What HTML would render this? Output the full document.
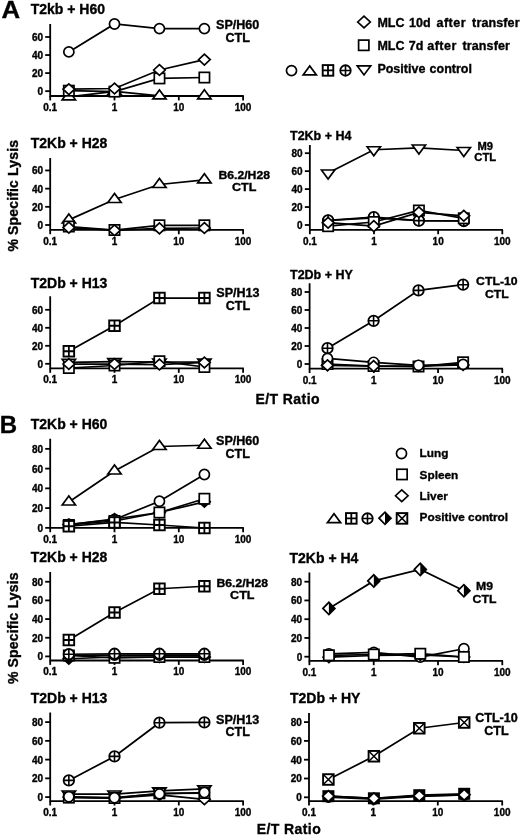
<!DOCTYPE html>
<html><head><meta charset="utf-8"><title>Figure</title>
<style>html,body{margin:0;padding:0;background:#fff;width:520px;height:837px;overflow:hidden}svg{display:block;position:absolute;left:0;top:0}text{fill:#000;stroke:#000;stroke-width:0.35px}</style>
</head><body>
<svg width="520" height="837" viewBox="0 0 520 837">
<rect width="520" height="837" fill="#fff"/>
<defs><filter id="gs" x="0" y="0" width="520" height="837" filterUnits="userSpaceOnUse" color-interpolation-filters="sRGB"><feColorMatrix type="saturate" values="0"/><feGaussianBlur stdDeviation="0.4"/></filter></defs>
<g filter="url(#gs)">
<text transform="translate(1.6,18.3) scale(1.075,1)" font-size="24" font-family="Liberation Sans, sans-serif" font-weight="bold">A</text>
<text x="-0.3" y="432.5" font-size="24" font-family="Liberation Sans, sans-serif" font-weight="bold">B</text>
<path d="M50.2 24V96.0H243.79999999999995" fill="none" stroke="#000" stroke-width="1.8"/>
<path d="M45.2 91.15H50.2" stroke="#000" stroke-width="1.8"/>
<text x="43.0" y="95.05" font-size="10" font-family="Liberation Sans, sans-serif" font-weight="bold" text-anchor="end">0</text>
<path d="M45.2 73.10000000000001H50.2" stroke="#000" stroke-width="1.8"/>
<text x="43.0" y="77.0" font-size="10" font-family="Liberation Sans, sans-serif" font-weight="bold" text-anchor="end">20</text>
<path d="M45.2 55.050000000000004H50.2" stroke="#000" stroke-width="1.8"/>
<text x="43.0" y="58.95" font-size="10" font-family="Liberation Sans, sans-serif" font-weight="bold" text-anchor="end">40</text>
<path d="M45.2 37.00000000000001H50.2" stroke="#000" stroke-width="1.8"/>
<text x="43.0" y="40.9" font-size="10" font-family="Liberation Sans, sans-serif" font-weight="bold" text-anchor="end">60</text>
<path d="M50.2 96.0V100.4" stroke="#000" stroke-width="1.8"/>
<text x="50.2" y="110.9" font-size="10" font-family="Liberation Sans, sans-serif" font-weight="bold" text-anchor="middle">0.1</text>
<path d="M114.5 96.0V100.4" stroke="#000" stroke-width="1.8"/>
<text x="114.5" y="110.9" font-size="10" font-family="Liberation Sans, sans-serif" font-weight="bold" text-anchor="middle">1</text>
<path d="M178.8 96.0V100.4" stroke="#000" stroke-width="1.8"/>
<text x="178.8" y="110.9" font-size="10" font-family="Liberation Sans, sans-serif" font-weight="bold" text-anchor="middle">10</text>
<path d="M243.09999999999997 96.0V100.4" stroke="#000" stroke-width="1.8"/>
<text x="243.09999999999997" y="110.9" font-size="10" font-family="Liberation Sans, sans-serif" font-weight="bold" text-anchor="middle">100</text>
<text x="30.7" y="14.2" font-size="14" font-family="Liberation Sans, sans-serif" font-weight="bold">T2kb + H60</text>
<polyline points="68.85,96.8 114.5,91.5 159.44,95.9 204.39,95.8" fill="none" stroke="#000" stroke-width="1.75"/>
<path d="M62.199999999999996 99.8L68.85 90.8L75.5 99.8Z" fill="#fff" stroke="#000" stroke-width="1.7" stroke-linejoin="miter"/>
<path d="M107.85 94.5L114.5 85.5L121.15 94.5Z" fill="#fff" stroke="#000" stroke-width="1.7" stroke-linejoin="miter"/>
<path d="M152.79 98.9L159.44 89.9L166.09 98.9Z" fill="#fff" stroke="#000" stroke-width="1.7" stroke-linejoin="miter"/>
<path d="M197.73999999999998 98.8L204.39 89.8L211.04 98.8Z" fill="#fff" stroke="#000" stroke-width="1.7" stroke-linejoin="miter"/>
<polyline points="68.85,90.7 114.5,91.6 159.44,78.4 204.39,77.5" fill="none" stroke="#000" stroke-width="1.75"/>
<rect x="63.699999999999996" y="85.55" width="10.3" height="10.3" fill="#fff" stroke="#000" stroke-width="1.7"/>
<rect x="109.35" y="86.44999999999999" width="10.3" height="10.3" fill="#fff" stroke="#000" stroke-width="1.7"/>
<rect x="154.29" y="73.25" width="10.3" height="10.3" fill="#fff" stroke="#000" stroke-width="1.7"/>
<rect x="199.23999999999998" y="72.35" width="10.3" height="10.3" fill="#fff" stroke="#000" stroke-width="1.7"/>
<polyline points="68.85,89.2 114.5,88.5 159.44,70 204.39,59.6" fill="none" stroke="#000" stroke-width="1.75"/>
<path d="M63.05 89.2L68.85 83.8L74.64999999999999 89.2L68.85 94.60000000000001Z" fill="#fff" stroke="#000" stroke-width="1.7" stroke-linejoin="miter"/>
<path d="M108.7 88.5L114.5 83.1L120.3 88.5L114.5 93.9Z" fill="#fff" stroke="#000" stroke-width="1.7" stroke-linejoin="miter"/>
<path d="M153.64 70L159.44 64.6L165.24 70L159.44 75.4Z" fill="#fff" stroke="#000" stroke-width="1.7" stroke-linejoin="miter"/>
<path d="M198.58999999999997 59.6L204.39 54.2L210.19 59.6L204.39 65.0Z" fill="#fff" stroke="#000" stroke-width="1.7" stroke-linejoin="miter"/>
<polyline points="68.85,51.9 114.5,24.0 159.44,28.6 204.39,28.6" fill="none" stroke="#000" stroke-width="1.75"/>
<circle cx="68.85" cy="51.9" r="5.05" fill="#fff" stroke="#000" stroke-width="1.7"/>
<circle cx="114.5" cy="24.0" r="5.05" fill="#fff" stroke="#000" stroke-width="1.7"/>
<circle cx="159.44" cy="28.6" r="5.05" fill="#fff" stroke="#000" stroke-width="1.7"/>
<circle cx="204.39" cy="28.6" r="5.05" fill="#fff" stroke="#000" stroke-width="1.7"/>
<text x="216.04" y="28.5" font-size="12" font-family="Liberation Sans, sans-serif" font-weight="bold" textLength="43.31" lengthAdjust="spacingAndGlyphs">SP/H60</text>
<text x="225.48" y="41.5" font-size="12" font-family="Liberation Sans, sans-serif" font-weight="bold" textLength="24.43" lengthAdjust="spacingAndGlyphs">CTL</text>
<path d="M50.2 158V229.85H243.79999999999995" fill="none" stroke="#000" stroke-width="1.8"/>
<path d="M45.2 225.0H50.2" stroke="#000" stroke-width="1.8"/>
<text x="43.0" y="228.9" font-size="10" font-family="Liberation Sans, sans-serif" font-weight="bold" text-anchor="end">0</text>
<path d="M45.2 206.82H50.2" stroke="#000" stroke-width="1.8"/>
<text x="43.0" y="210.72" font-size="10" font-family="Liberation Sans, sans-serif" font-weight="bold" text-anchor="end">20</text>
<path d="M45.2 188.64H50.2" stroke="#000" stroke-width="1.8"/>
<text x="43.0" y="192.54" font-size="10" font-family="Liberation Sans, sans-serif" font-weight="bold" text-anchor="end">40</text>
<path d="M45.2 170.46H50.2" stroke="#000" stroke-width="1.8"/>
<text x="43.0" y="174.36" font-size="10" font-family="Liberation Sans, sans-serif" font-weight="bold" text-anchor="end">60</text>
<path d="M50.2 229.85V234.25" stroke="#000" stroke-width="1.8"/>
<text x="50.2" y="244.75" font-size="10" font-family="Liberation Sans, sans-serif" font-weight="bold" text-anchor="middle">0.1</text>
<path d="M114.5 229.85V234.25" stroke="#000" stroke-width="1.8"/>
<text x="114.5" y="244.75" font-size="10" font-family="Liberation Sans, sans-serif" font-weight="bold" text-anchor="middle">1</text>
<path d="M178.8 229.85V234.25" stroke="#000" stroke-width="1.8"/>
<text x="178.8" y="244.75" font-size="10" font-family="Liberation Sans, sans-serif" font-weight="bold" text-anchor="middle">10</text>
<path d="M243.09999999999997 229.85V234.25" stroke="#000" stroke-width="1.8"/>
<text x="243.09999999999997" y="244.75" font-size="10" font-family="Liberation Sans, sans-serif" font-weight="bold" text-anchor="middle">100</text>
<text x="30.7" y="148.4" font-size="14" font-family="Liberation Sans, sans-serif" font-weight="bold">T2Kb + H28</text>
<polyline points="68.85,219.9 114.5,199.5 159.44,184.5 204.39,179.8" fill="none" stroke="#000" stroke-width="1.75"/>
<path d="M62.199999999999996 222.9L68.85 213.9L75.5 222.9Z" fill="#fff" stroke="#000" stroke-width="1.7" stroke-linejoin="miter"/>
<path d="M107.85 202.5L114.5 193.5L121.15 202.5Z" fill="#fff" stroke="#000" stroke-width="1.7" stroke-linejoin="miter"/>
<path d="M152.79 187.5L159.44 178.5L166.09 187.5Z" fill="#fff" stroke="#000" stroke-width="1.7" stroke-linejoin="miter"/>
<path d="M197.73999999999998 182.8L204.39 173.8L211.04 182.8Z" fill="#fff" stroke="#000" stroke-width="1.7" stroke-linejoin="miter"/>
<polyline points="68.85,226.5 114.5,230 159.44,225.3 204.39,225.3" fill="none" stroke="#000" stroke-width="1.75"/>
<rect x="63.699999999999996" y="221.35" width="10.3" height="10.3" fill="#fff" stroke="#000" stroke-width="1.7"/>
<rect x="109.35" y="224.85" width="10.3" height="10.3" fill="#fff" stroke="#000" stroke-width="1.7"/>
<rect x="154.29" y="220.15" width="10.3" height="10.3" fill="#fff" stroke="#000" stroke-width="1.7"/>
<rect x="199.23999999999998" y="220.15" width="10.3" height="10.3" fill="#fff" stroke="#000" stroke-width="1.7"/>
<polyline points="68.85,227.6 114.5,230.3 159.44,228.4 204.39,228" fill="none" stroke="#000" stroke-width="1.75"/>
<path d="M63.05 227.6L68.85 222.2L74.64999999999999 227.6L68.85 233.0Z" fill="#fff" stroke="#000" stroke-width="1.7" stroke-linejoin="miter"/>
<path d="M108.7 230.3L114.5 224.9L120.3 230.3L114.5 235.70000000000002Z" fill="#fff" stroke="#000" stroke-width="1.7" stroke-linejoin="miter"/>
<path d="M153.64 228.4L159.44 223.0L165.24 228.4L159.44 233.8Z" fill="#fff" stroke="#000" stroke-width="1.7" stroke-linejoin="miter"/>
<path d="M198.58999999999997 228L204.39 222.6L210.19 228L204.39 233.4Z" fill="#fff" stroke="#000" stroke-width="1.7" stroke-linejoin="miter"/>
<text x="218.41" y="179.0" font-size="10.8" font-family="Liberation Sans, sans-serif" font-weight="bold" textLength="51.57" lengthAdjust="spacingAndGlyphs">B6.2/H28</text>
<text x="231.98" y="191.1" font-size="10.8" font-family="Liberation Sans, sans-serif" font-weight="bold" textLength="24.43" lengthAdjust="spacingAndGlyphs">CTL</text>
<path d="M309.85 145V229.85H503.00000000000006" fill="none" stroke="#000" stroke-width="1.8"/>
<path d="M304.85 225.0H309.85" stroke="#000" stroke-width="1.8"/>
<text x="302.65000000000003" y="228.9" font-size="10" font-family="Liberation Sans, sans-serif" font-weight="bold" text-anchor="end">0</text>
<path d="M304.85 207.05H309.85" stroke="#000" stroke-width="1.8"/>
<text x="302.65000000000003" y="210.95" font-size="10" font-family="Liberation Sans, sans-serif" font-weight="bold" text-anchor="end">20</text>
<path d="M304.85 189.1H309.85" stroke="#000" stroke-width="1.8"/>
<text x="302.65000000000003" y="193.0" font-size="10" font-family="Liberation Sans, sans-serif" font-weight="bold" text-anchor="end">40</text>
<path d="M304.85 171.15H309.85" stroke="#000" stroke-width="1.8"/>
<text x="302.65000000000003" y="175.05" font-size="10" font-family="Liberation Sans, sans-serif" font-weight="bold" text-anchor="end">60</text>
<path d="M304.85 153.2H309.85" stroke="#000" stroke-width="1.8"/>
<text x="302.65000000000003" y="157.1" font-size="10" font-family="Liberation Sans, sans-serif" font-weight="bold" text-anchor="end">80</text>
<path d="M309.85 229.85V234.25" stroke="#000" stroke-width="1.8"/>
<text x="309.85" y="244.75" font-size="10" font-family="Liberation Sans, sans-serif" font-weight="bold" text-anchor="middle">0.1</text>
<path d="M374.0 229.85V234.25" stroke="#000" stroke-width="1.8"/>
<text x="374.0" y="244.75" font-size="10" font-family="Liberation Sans, sans-serif" font-weight="bold" text-anchor="middle">1</text>
<path d="M438.15000000000003 229.85V234.25" stroke="#000" stroke-width="1.8"/>
<text x="438.15000000000003" y="244.75" font-size="10" font-family="Liberation Sans, sans-serif" font-weight="bold" text-anchor="middle">10</text>
<path d="M502.30000000000007 229.85V234.25" stroke="#000" stroke-width="1.8"/>
<text x="502.30000000000007" y="244.75" font-size="10" font-family="Liberation Sans, sans-serif" font-weight="bold" text-anchor="middle">100</text>
<text x="290" y="140" font-size="12.5" font-family="Liberation Sans, sans-serif" font-weight="bold">T2Kb + H4</text>
<polyline points="328.1,173.0 373.8,149.75 418.9,148.0 463.8,150.5" fill="none" stroke="#000" stroke-width="1.75"/>
<path d="M321.45000000000005 170.0L328.1 179.0L334.75 170.0Z" fill="#fff" stroke="#000" stroke-width="1.7" stroke-linejoin="miter"/>
<path d="M367.15000000000003 146.75L373.8 155.75L380.45 146.75Z" fill="#fff" stroke="#000" stroke-width="1.7" stroke-linejoin="miter"/>
<path d="M412.25 145.0L418.9 154.0L425.54999999999995 145.0Z" fill="#fff" stroke="#000" stroke-width="1.7" stroke-linejoin="miter"/>
<path d="M457.15000000000003 147.5L463.8 156.5L470.45 147.5Z" fill="#fff" stroke="#000" stroke-width="1.7" stroke-linejoin="miter"/>
<polyline points="328.1,220.5 373.8,218 418.9,220.6 463.8,221" fill="none" stroke="#000" stroke-width="1.75"/>
<circle cx="328.1" cy="220.5" r="5.05" fill="#fff" stroke="#000" stroke-width="1.7"/>
<circle cx="373.8" cy="218" r="5.05" fill="#fff" stroke="#000" stroke-width="1.7"/>
<circle cx="418.9" cy="220.6" r="5.05" fill="#fff" stroke="#000" stroke-width="1.7"/>
<circle cx="463.8" cy="221" r="5.05" fill="#fff" stroke="#000" stroke-width="1.7"/>
<polyline points="328.1,220.3 373.8,217.1 418.9,220.6 463.8,221" fill="none" stroke="#000" stroke-width="1.75"/>
<circle cx="328.1" cy="220.3" r="5.25" fill="#fff" stroke="#000" stroke-width="1.8"/><path d="M322.85 220.3H333.35M328.1 215.05V225.55" stroke="#000" stroke-width="1.6" fill="none"/>
<circle cx="373.8" cy="217.1" r="5.25" fill="#fff" stroke="#000" stroke-width="1.8"/><path d="M368.55 217.1H379.05M373.8 211.85V222.35" stroke="#000" stroke-width="1.6" fill="none"/>
<circle cx="418.9" cy="220.6" r="5.25" fill="#fff" stroke="#000" stroke-width="1.8"/><path d="M413.65 220.6H424.15M418.9 215.35V225.85" stroke="#000" stroke-width="1.6" fill="none"/>
<circle cx="463.8" cy="221" r="5.25" fill="#fff" stroke="#000" stroke-width="1.8"/><path d="M458.55 221H469.05M463.8 215.75V226.25" stroke="#000" stroke-width="1.6" fill="none"/>
<polyline points="328.1,226.2 373.8,222 418.9,210.5 463.8,218.3" fill="none" stroke="#000" stroke-width="1.75"/>
<rect x="322.95000000000005" y="221.04999999999998" width="10.3" height="10.3" fill="#fff" stroke="#000" stroke-width="1.7"/>
<rect x="368.65000000000003" y="216.85" width="10.3" height="10.3" fill="#fff" stroke="#000" stroke-width="1.7"/>
<rect x="413.75" y="205.35" width="10.3" height="10.3" fill="#fff" stroke="#000" stroke-width="1.7"/>
<rect x="458.65000000000003" y="213.15" width="10.3" height="10.3" fill="#fff" stroke="#000" stroke-width="1.7"/>
<polyline points="328.1,222.7 373.8,226.1 418.9,212.3 463.8,215.8" fill="none" stroke="#000" stroke-width="1.75"/>
<path d="M322.3 222.7L328.1 217.29999999999998L333.90000000000003 222.7L328.1 228.1Z" fill="#fff" stroke="#000" stroke-width="1.7" stroke-linejoin="miter"/>
<path d="M368.0 226.1L373.8 220.7L379.6 226.1L373.8 231.5Z" fill="#fff" stroke="#000" stroke-width="1.7" stroke-linejoin="miter"/>
<path d="M413.09999999999997 212.3L418.9 206.9L424.7 212.3L418.9 217.70000000000002Z" fill="#fff" stroke="#000" stroke-width="1.7" stroke-linejoin="miter"/>
<path d="M458.0 215.8L463.8 210.4L469.6 215.8L463.8 221.20000000000002Z" fill="#fff" stroke="#000" stroke-width="1.7" stroke-linejoin="miter"/>
<text x="477.4" y="149.7" font-size="10" font-family="Liberation Sans, sans-serif" font-weight="bold" textLength="15.59" lengthAdjust="spacingAndGlyphs">M9</text>
<text x="474.29" y="160.9" font-size="10" font-family="Liberation Sans, sans-serif" font-weight="bold" textLength="21.82" lengthAdjust="spacingAndGlyphs">CTL</text>
<path d="M50.2 296.25V368.4H243.79999999999995" fill="none" stroke="#000" stroke-width="1.8"/>
<path d="M45.2 363.8H50.2" stroke="#000" stroke-width="1.8"/>
<text x="43.0" y="367.7" font-size="10" font-family="Liberation Sans, sans-serif" font-weight="bold" text-anchor="end">0</text>
<path d="M45.2 345.8H50.2" stroke="#000" stroke-width="1.8"/>
<text x="43.0" y="349.7" font-size="10" font-family="Liberation Sans, sans-serif" font-weight="bold" text-anchor="end">20</text>
<path d="M45.2 327.8H50.2" stroke="#000" stroke-width="1.8"/>
<text x="43.0" y="331.7" font-size="10" font-family="Liberation Sans, sans-serif" font-weight="bold" text-anchor="end">40</text>
<path d="M45.2 309.8H50.2" stroke="#000" stroke-width="1.8"/>
<text x="43.0" y="313.7" font-size="10" font-family="Liberation Sans, sans-serif" font-weight="bold" text-anchor="end">60</text>
<path d="M50.2 368.4V372.79999999999995" stroke="#000" stroke-width="1.8"/>
<text x="50.2" y="383.3" font-size="10" font-family="Liberation Sans, sans-serif" font-weight="bold" text-anchor="middle">0.1</text>
<path d="M114.5 368.4V372.79999999999995" stroke="#000" stroke-width="1.8"/>
<text x="114.5" y="383.3" font-size="10" font-family="Liberation Sans, sans-serif" font-weight="bold" text-anchor="middle">1</text>
<path d="M178.8 368.4V372.79999999999995" stroke="#000" stroke-width="1.8"/>
<text x="178.8" y="383.3" font-size="10" font-family="Liberation Sans, sans-serif" font-weight="bold" text-anchor="middle">10</text>
<path d="M243.09999999999997 368.4V372.79999999999995" stroke="#000" stroke-width="1.8"/>
<text x="243.09999999999997" y="383.3" font-size="10" font-family="Liberation Sans, sans-serif" font-weight="bold" text-anchor="middle">100</text>
<text x="30.7" y="287.5" font-size="14" font-family="Liberation Sans, sans-serif" font-weight="bold">T2Db + H13</text>
<polyline points="68.85,351.25 114.5,325.75 159.44,298 204.39,298" fill="none" stroke="#000" stroke-width="1.75"/>
<rect x="63.55" y="345.95" width="10.6" height="10.6" fill="#fff" stroke="#000" stroke-width="1.9"/><path d="M63.55 351.25H74.14999999999999M68.85 345.95V356.55" stroke="#000" stroke-width="1.8" fill="none"/>
<rect x="109.2" y="320.45" width="10.6" height="10.6" fill="#fff" stroke="#000" stroke-width="1.9"/><path d="M109.2 325.75H119.8M114.5 320.45V331.05" stroke="#000" stroke-width="1.8" fill="none"/>
<rect x="154.14" y="292.7" width="10.6" height="10.6" fill="#fff" stroke="#000" stroke-width="1.9"/><path d="M154.14 298H164.74M159.44 292.7V303.3" stroke="#000" stroke-width="1.8" fill="none"/>
<rect x="199.08999999999997" y="292.7" width="10.6" height="10.6" fill="#fff" stroke="#000" stroke-width="1.9"/><path d="M199.08999999999997 298H209.69M204.39 292.7V303.3" stroke="#000" stroke-width="1.8" fill="none"/>
<polyline points="68.85,362.3 114.5,361.7 159.44,362.0 204.39,362.1" fill="none" stroke="#000" stroke-width="1.75"/>
<path d="M62.199999999999996 359.3L68.85 368.3L75.5 359.3Z" fill="#fff" stroke="#000" stroke-width="1.7" stroke-linejoin="miter"/>
<path d="M107.85 358.7L114.5 367.7L121.15 358.7Z" fill="#fff" stroke="#000" stroke-width="1.7" stroke-linejoin="miter"/>
<path d="M152.79 359.0L159.44 368.0L166.09 359.0Z" fill="#fff" stroke="#000" stroke-width="1.7" stroke-linejoin="miter"/>
<path d="M197.73999999999998 359.1L204.39 368.1L211.04 359.1Z" fill="#fff" stroke="#000" stroke-width="1.7" stroke-linejoin="miter"/>
<polyline points="68.85,368 114.5,365.5 159.44,361.25 204.39,367" fill="none" stroke="#000" stroke-width="1.75"/>
<rect x="63.699999999999996" y="362.85" width="10.3" height="10.3" fill="#fff" stroke="#000" stroke-width="1.7"/>
<rect x="109.35" y="360.35" width="10.3" height="10.3" fill="#fff" stroke="#000" stroke-width="1.7"/>
<rect x="154.29" y="356.1" width="10.3" height="10.3" fill="#fff" stroke="#000" stroke-width="1.7"/>
<rect x="199.23999999999998" y="361.85" width="10.3" height="10.3" fill="#fff" stroke="#000" stroke-width="1.7"/>
<polyline points="68.85,364 114.5,364 159.44,364.5 204.39,362.5" fill="none" stroke="#000" stroke-width="1.75"/>
<path d="M63.05 364L68.85 358.6L74.64999999999999 364L68.85 369.4Z" fill="#fff" stroke="#000" stroke-width="1.7" stroke-linejoin="miter"/>
<path d="M108.7 364L114.5 358.6L120.3 364L114.5 369.4Z" fill="#fff" stroke="#000" stroke-width="1.7" stroke-linejoin="miter"/>
<path d="M153.64 364.5L159.44 359.1L165.24 364.5L159.44 369.9Z" fill="#fff" stroke="#000" stroke-width="1.7" stroke-linejoin="miter"/>
<path d="M198.58999999999997 362.5L204.39 357.1L210.19 362.5L204.39 367.9Z" fill="#fff" stroke="#000" stroke-width="1.7" stroke-linejoin="miter"/>
<text x="216.25" y="297.2" font-size="12" font-family="Liberation Sans, sans-serif" font-weight="bold" textLength="43.31" lengthAdjust="spacingAndGlyphs">SP/H13</text>
<text x="225.69" y="309.6" font-size="12" font-family="Liberation Sans, sans-serif" font-weight="bold" textLength="24.43" lengthAdjust="spacingAndGlyphs">CTL</text>
<path d="M309.6 283.3V368.65H502.99" fill="none" stroke="#000" stroke-width="1.8"/>
<path d="M304.6 364.0H309.6" stroke="#000" stroke-width="1.8"/>
<text x="302.40000000000003" y="367.9" font-size="10" font-family="Liberation Sans, sans-serif" font-weight="bold" text-anchor="end">0</text>
<path d="M304.6 346.0H309.6" stroke="#000" stroke-width="1.8"/>
<text x="302.40000000000003" y="349.9" font-size="10" font-family="Liberation Sans, sans-serif" font-weight="bold" text-anchor="end">20</text>
<path d="M304.6 328.0H309.6" stroke="#000" stroke-width="1.8"/>
<text x="302.40000000000003" y="331.9" font-size="10" font-family="Liberation Sans, sans-serif" font-weight="bold" text-anchor="end">40</text>
<path d="M304.6 310.0H309.6" stroke="#000" stroke-width="1.8"/>
<text x="302.40000000000003" y="313.9" font-size="10" font-family="Liberation Sans, sans-serif" font-weight="bold" text-anchor="end">60</text>
<path d="M304.6 292.0H309.6" stroke="#000" stroke-width="1.8"/>
<text x="302.40000000000003" y="295.9" font-size="10" font-family="Liberation Sans, sans-serif" font-weight="bold" text-anchor="end">80</text>
<path d="M309.6 368.65V373.04999999999995" stroke="#000" stroke-width="1.8"/>
<text x="309.6" y="383.55" font-size="10" font-family="Liberation Sans, sans-serif" font-weight="bold" text-anchor="middle">0.1</text>
<path d="M373.83000000000004 368.65V373.04999999999995" stroke="#000" stroke-width="1.8"/>
<text x="373.83000000000004" y="383.55" font-size="10" font-family="Liberation Sans, sans-serif" font-weight="bold" text-anchor="middle">1</text>
<path d="M438.06000000000006 368.65V373.04999999999995" stroke="#000" stroke-width="1.8"/>
<text x="438.06000000000006" y="383.55" font-size="10" font-family="Liberation Sans, sans-serif" font-weight="bold" text-anchor="middle">10</text>
<path d="M502.29 368.65V373.04999999999995" stroke="#000" stroke-width="1.8"/>
<text x="502.29" y="383.55" font-size="10" font-family="Liberation Sans, sans-serif" font-weight="bold" text-anchor="middle">100</text>
<text x="290" y="279.25" font-size="12.5" font-family="Liberation Sans, sans-serif" font-weight="bold">T2Db + HY</text>
<polyline points="327.5,348.2 373.6,320.8 418.5,290.4 463.1,284.7" fill="none" stroke="#000" stroke-width="1.75"/>
<circle cx="327.5" cy="348.2" r="5.25" fill="#fff" stroke="#000" stroke-width="1.8"/><path d="M322.25 348.2H332.75M327.5 342.95V353.45" stroke="#000" stroke-width="1.6" fill="none"/>
<circle cx="373.6" cy="320.8" r="5.25" fill="#fff" stroke="#000" stroke-width="1.8"/><path d="M368.35 320.8H378.85M373.6 315.55V326.05" stroke="#000" stroke-width="1.6" fill="none"/>
<circle cx="418.5" cy="290.4" r="5.25" fill="#fff" stroke="#000" stroke-width="1.8"/><path d="M413.25 290.4H423.75M418.5 285.15V295.65" stroke="#000" stroke-width="1.6" fill="none"/>
<circle cx="463.1" cy="284.7" r="5.25" fill="#fff" stroke="#000" stroke-width="1.8"/><path d="M457.85 284.7H468.35M463.1 279.45V289.95" stroke="#000" stroke-width="1.6" fill="none"/>
<polyline points="327.5,365.3 373.6,366.1 418.5,366 463.1,365" fill="none" stroke="#000" stroke-width="1.75"/>
<path d="M321.7 365.3L327.5 359.90000000000003L333.3 365.3L327.5 370.7Z" fill="#fff" stroke="#000" stroke-width="1.7" stroke-linejoin="miter"/>
<path d="M367.8 366.1L373.6 360.70000000000005L379.40000000000003 366.1L373.6 371.5Z" fill="#fff" stroke="#000" stroke-width="1.7" stroke-linejoin="miter"/>
<path d="M412.7 366L418.5 360.6L424.3 366L418.5 371.4Z" fill="#fff" stroke="#000" stroke-width="1.7" stroke-linejoin="miter"/>
<path d="M457.3 365L463.1 359.6L468.90000000000003 365L463.1 370.4Z" fill="#fff" stroke="#000" stroke-width="1.7" stroke-linejoin="miter"/>
<polyline points="327.5,364 373.6,366 418.5,366.5 463.1,362.3" fill="none" stroke="#000" stroke-width="1.75"/>
<rect x="322.35" y="358.85" width="10.3" height="10.3" fill="#fff" stroke="#000" stroke-width="1.7"/>
<rect x="368.45000000000005" y="360.85" width="10.3" height="10.3" fill="#fff" stroke="#000" stroke-width="1.7"/>
<rect x="413.35" y="361.35" width="10.3" height="10.3" fill="#fff" stroke="#000" stroke-width="1.7"/>
<rect x="457.95000000000005" y="357.15000000000003" width="10.3" height="10.3" fill="#fff" stroke="#000" stroke-width="1.7"/>
<polyline points="327.5,358.4 373.6,362.3 418.5,365.3 463.1,364.4" fill="none" stroke="#000" stroke-width="1.75"/>
<circle cx="327.5" cy="358.4" r="5.05" fill="#fff" stroke="#000" stroke-width="1.7"/>
<circle cx="373.6" cy="362.3" r="5.05" fill="#fff" stroke="#000" stroke-width="1.7"/>
<circle cx="418.5" cy="365.3" r="5.05" fill="#fff" stroke="#000" stroke-width="1.7"/>
<circle cx="463.1" cy="364.4" r="5.05" fill="#fff" stroke="#000" stroke-width="1.7"/>
<path d="M321.7 365.3L327.5 359.90000000000003L333.3 365.3L327.5 370.7Z" fill="#fff" stroke="#000" stroke-width="1.7" stroke-linejoin="miter"/>
<path d="M367.8 366.1L373.6 360.70000000000005L379.40000000000003 366.1L373.6 371.5Z" fill="#fff" stroke="#000" stroke-width="1.7" stroke-linejoin="miter"/>
<text x="476.13" y="285.2" font-size="11.2" font-family="Liberation Sans, sans-serif" font-weight="bold" textLength="41.53" lengthAdjust="spacingAndGlyphs">CTL-10</text>
<text x="484.99" y="298.0" font-size="11.2" font-family="Liberation Sans, sans-serif" font-weight="bold" textLength="23.82" lengthAdjust="spacingAndGlyphs">CTL</text>
<text x="255.5" y="403.7" font-size="14" font-family="Liberation Sans, sans-serif" font-weight="bold" textLength="64" lengthAdjust="spacing">E/T Ratio</text>
<text transform="translate(17.9,251.5) rotate(-90)" font-size="14" font-family="Liberation Sans, sans-serif" font-weight="bold" textLength="111.5" lengthAdjust="spacing">% Specific Lysis</text>
<path d="M357.7 22L364 16.1L370.3 22L364 27.9Z" fill="#fff" stroke="#000" stroke-width="1.7" stroke-linejoin="miter"/>
<rect x="358.6" y="40.1" width="10.3" height="10.3" fill="#fff" stroke="#000" stroke-width="1.7"/>
<circle cx="291.5" cy="70.6" r="5.05" fill="#fff" stroke="#000" stroke-width="1.7"/>
<path d="M303.1 74.9L309.75 65.9L316.4 74.9Z" fill="#fff" stroke="#000" stroke-width="1.7" stroke-linejoin="miter"/>
<rect x="322.7" y="65.10000000000001" width="10.6" height="10.6" fill="#fff" stroke="#000" stroke-width="1.9"/><path d="M322.7 70.4H333.3M328 65.10000000000001V75.7" stroke="#000" stroke-width="1.8" fill="none"/>
<circle cx="345.5" cy="70.5" r="5.25" fill="#fff" stroke="#000" stroke-width="1.8"/><path d="M340.25 70.5H350.75M345.5 65.25V75.75" stroke="#000" stroke-width="1.6" fill="none"/>
<path d="M357.35 65.9L364 74.9L370.65 65.9Z" fill="#fff" stroke="#000" stroke-width="1.7" stroke-linejoin="miter"/>
<text x="377.4" y="26.6" font-size="12.5" font-family="Liberation Sans, sans-serif" font-weight="bold">MLC</text>
<text x="409.0" y="26.6" font-size="12.5" font-family="Liberation Sans, sans-serif" font-weight="bold">10d</text>
<text x="436.5" y="26.6" font-size="12.5" font-family="Liberation Sans, sans-serif" font-weight="bold" textLength="29" lengthAdjust="spacing">after</text>
<text x="472.1" y="26.6" font-size="12.5" font-family="Liberation Sans, sans-serif" font-weight="bold" textLength="47.4" lengthAdjust="spacing">transfer</text>
<text x="377.4" y="49.6" font-size="12.5" font-family="Liberation Sans, sans-serif" font-weight="bold">MLC</text>
<text x="408.8" y="49.6" font-size="12.5" font-family="Liberation Sans, sans-serif" font-weight="bold">7d</text>
<text x="427.3" y="49.6" font-size="12.5" font-family="Liberation Sans, sans-serif" font-weight="bold" textLength="29" lengthAdjust="spacing">after</text>
<text x="462.5" y="49.6" font-size="12.5" font-family="Liberation Sans, sans-serif" font-weight="bold" textLength="47.4" lengthAdjust="spacing">transfer</text>
<text x="377.4" y="73.0" font-size="12.5" font-family="Liberation Sans, sans-serif" font-weight="bold">Positive</text>
<text x="429.6" y="73.0" font-size="12.5" font-family="Liberation Sans, sans-serif" font-weight="bold">control</text>
<path d="M50.2 438.75V527.85H243.79999999999995" fill="none" stroke="#000" stroke-width="1.8"/>
<path d="M45.2 527.85H50.2" stroke="#000" stroke-width="1.8"/>
<text x="43.0" y="531.75" font-size="10" font-family="Liberation Sans, sans-serif" font-weight="bold" text-anchor="end">0</text>
<path d="M45.2 508.1H50.2" stroke="#000" stroke-width="1.8"/>
<text x="43.0" y="512.0" font-size="10" font-family="Liberation Sans, sans-serif" font-weight="bold" text-anchor="end">20</text>
<path d="M45.2 488.35H50.2" stroke="#000" stroke-width="1.8"/>
<text x="43.0" y="492.25" font-size="10" font-family="Liberation Sans, sans-serif" font-weight="bold" text-anchor="end">40</text>
<path d="M45.2 468.6H50.2" stroke="#000" stroke-width="1.8"/>
<text x="43.0" y="472.5" font-size="10" font-family="Liberation Sans, sans-serif" font-weight="bold" text-anchor="end">60</text>
<path d="M45.2 448.85H50.2" stroke="#000" stroke-width="1.8"/>
<text x="43.0" y="452.75" font-size="10" font-family="Liberation Sans, sans-serif" font-weight="bold" text-anchor="end">80</text>
<path d="M50.2 527.85V532.25" stroke="#000" stroke-width="1.8"/>
<text x="50.2" y="542.75" font-size="10" font-family="Liberation Sans, sans-serif" font-weight="bold" text-anchor="middle">0.1</text>
<path d="M114.5 527.85V532.25" stroke="#000" stroke-width="1.8"/>
<text x="114.5" y="542.75" font-size="10" font-family="Liberation Sans, sans-serif" font-weight="bold" text-anchor="middle">1</text>
<path d="M178.8 527.85V532.25" stroke="#000" stroke-width="1.8"/>
<text x="178.8" y="542.75" font-size="10" font-family="Liberation Sans, sans-serif" font-weight="bold" text-anchor="middle">10</text>
<path d="M243.09999999999997 527.85V532.25" stroke="#000" stroke-width="1.8"/>
<text x="243.09999999999997" y="542.75" font-size="10" font-family="Liberation Sans, sans-serif" font-weight="bold" text-anchor="middle">100</text>
<text x="30.7" y="429.4" font-size="14" font-family="Liberation Sans, sans-serif" font-weight="bold">T2Kb + H60</text>
<polyline points="68.85,502.0 114.5,471.0 159.44,446.5 204.39,445.25" fill="none" stroke="#000" stroke-width="1.75"/>
<path d="M62.199999999999996 505.0L68.85 496.0L75.5 505.0Z" fill="#fff" stroke="#000" stroke-width="1.7" stroke-linejoin="miter"/>
<path d="M107.85 474.0L114.5 465.0L121.15 474.0Z" fill="#fff" stroke="#000" stroke-width="1.7" stroke-linejoin="miter"/>
<path d="M152.79 449.5L159.44 440.5L166.09 449.5Z" fill="#fff" stroke="#000" stroke-width="1.7" stroke-linejoin="miter"/>
<path d="M197.73999999999998 448.25L204.39 439.25L211.04 448.25Z" fill="#fff" stroke="#000" stroke-width="1.7" stroke-linejoin="miter"/>
<polyline points="68.85,524.5 114.5,519 159.44,512.5 204.39,501.8" fill="none" stroke="#000" stroke-width="1.75"/>
<path d="M63.05 524.5L68.85 519.1L74.64999999999999 524.5L68.85 529.9Z" fill="#000" stroke="#000" stroke-width="1.7"/>
<path d="M108.7 519L114.5 513.6L120.3 519L114.5 524.4Z" fill="#000" stroke="#000" stroke-width="1.7"/>
<path d="M153.64 512.5L159.44 507.1L165.24 512.5L159.44 517.9Z" fill="#000" stroke="#000" stroke-width="1.7"/>
<path d="M198.58999999999997 501.8L204.39 496.40000000000003L210.19 501.8L204.39 507.2Z" fill="#000" stroke="#000" stroke-width="1.7"/>
<polyline points="68.85,524.5 114.5,519.5 159.44,501.25 204.39,474.5" fill="none" stroke="#000" stroke-width="1.75"/>
<circle cx="68.85" cy="524.5" r="5.05" fill="#fff" stroke="#000" stroke-width="1.7"/>
<circle cx="114.5" cy="519.5" r="5.05" fill="#fff" stroke="#000" stroke-width="1.7"/>
<circle cx="159.44" cy="501.25" r="5.05" fill="#fff" stroke="#000" stroke-width="1.7"/>
<circle cx="204.39" cy="474.5" r="5.05" fill="#fff" stroke="#000" stroke-width="1.7"/>
<polyline points="68.85,525 114.5,521 159.44,512.5 204.39,498.75" fill="none" stroke="#000" stroke-width="1.75"/>
<rect x="63.699999999999996" y="519.85" width="10.3" height="10.3" fill="#fff" stroke="#000" stroke-width="1.7"/>
<rect x="109.35" y="515.85" width="10.3" height="10.3" fill="#fff" stroke="#000" stroke-width="1.7"/>
<rect x="154.29" y="507.35" width="10.3" height="10.3" fill="#fff" stroke="#000" stroke-width="1.7"/>
<rect x="199.23999999999998" y="493.6" width="10.3" height="10.3" fill="#fff" stroke="#000" stroke-width="1.7"/>
<polyline points="68.85,526.25 114.5,522.5 159.44,525 204.39,528" fill="none" stroke="#000" stroke-width="1.75"/>
<rect x="63.55" y="520.95" width="10.6" height="10.6" fill="#fff" stroke="#000" stroke-width="1.9"/><path d="M63.55 526.25H74.14999999999999M68.85 520.95V531.55" stroke="#000" stroke-width="1.8" fill="none"/>
<rect x="109.2" y="517.2" width="10.6" height="10.6" fill="#fff" stroke="#000" stroke-width="1.9"/><path d="M109.2 522.5H119.8M114.5 517.2V527.8" stroke="#000" stroke-width="1.8" fill="none"/>
<rect x="154.14" y="519.7" width="10.6" height="10.6" fill="#fff" stroke="#000" stroke-width="1.9"/><path d="M154.14 525H164.74M159.44 519.7V530.3" stroke="#000" stroke-width="1.8" fill="none"/>
<rect x="199.08999999999997" y="522.7" width="10.6" height="10.6" fill="#fff" stroke="#000" stroke-width="1.9"/><path d="M199.08999999999997 528H209.69M204.39 522.7V533.3" stroke="#000" stroke-width="1.8" fill="none"/>
<text x="216.04" y="444.7" font-size="12" font-family="Liberation Sans, sans-serif" font-weight="bold" textLength="43.31" lengthAdjust="spacingAndGlyphs">SP/H60</text>
<text x="225.48" y="457.5" font-size="12" font-family="Liberation Sans, sans-serif" font-weight="bold" textLength="24.43" lengthAdjust="spacingAndGlyphs">CTL</text>
<path d="M50.2 572V660.5H243.79999999999995" fill="none" stroke="#000" stroke-width="1.8"/>
<path d="M45.2 656.4H50.2" stroke="#000" stroke-width="1.8"/>
<text x="43.0" y="660.3" font-size="10" font-family="Liberation Sans, sans-serif" font-weight="bold" text-anchor="end">0</text>
<path d="M45.2 637.74H50.2" stroke="#000" stroke-width="1.8"/>
<text x="43.0" y="641.64" font-size="10" font-family="Liberation Sans, sans-serif" font-weight="bold" text-anchor="end">20</text>
<path d="M45.2 619.0799999999999H50.2" stroke="#000" stroke-width="1.8"/>
<text x="43.0" y="622.98" font-size="10" font-family="Liberation Sans, sans-serif" font-weight="bold" text-anchor="end">40</text>
<path d="M45.2 600.42H50.2" stroke="#000" stroke-width="1.8"/>
<text x="43.0" y="604.32" font-size="10" font-family="Liberation Sans, sans-serif" font-weight="bold" text-anchor="end">60</text>
<path d="M45.2 581.76H50.2" stroke="#000" stroke-width="1.8"/>
<text x="43.0" y="585.66" font-size="10" font-family="Liberation Sans, sans-serif" font-weight="bold" text-anchor="end">80</text>
<path d="M50.2 660.5V664.9" stroke="#000" stroke-width="1.8"/>
<text x="50.2" y="675.4" font-size="10" font-family="Liberation Sans, sans-serif" font-weight="bold" text-anchor="middle">0.1</text>
<path d="M114.5 660.5V664.9" stroke="#000" stroke-width="1.8"/>
<text x="114.5" y="675.4" font-size="10" font-family="Liberation Sans, sans-serif" font-weight="bold" text-anchor="middle">1</text>
<path d="M178.8 660.5V664.9" stroke="#000" stroke-width="1.8"/>
<text x="178.8" y="675.4" font-size="10" font-family="Liberation Sans, sans-serif" font-weight="bold" text-anchor="middle">10</text>
<path d="M243.09999999999997 660.5V664.9" stroke="#000" stroke-width="1.8"/>
<text x="243.09999999999997" y="675.4" font-size="10" font-family="Liberation Sans, sans-serif" font-weight="bold" text-anchor="middle">100</text>
<text x="30.7" y="561.75" font-size="14" font-family="Liberation Sans, sans-serif" font-weight="bold">T2Kb + H28</text>
<polyline points="68.85,640 114.5,612.5 159.44,588.75 204.39,586.25" fill="none" stroke="#000" stroke-width="1.75"/>
<rect x="63.55" y="634.7" width="10.6" height="10.6" fill="#fff" stroke="#000" stroke-width="1.9"/><path d="M63.55 640H74.14999999999999M68.85 634.7V645.3" stroke="#000" stroke-width="1.8" fill="none"/>
<rect x="109.2" y="607.2" width="10.6" height="10.6" fill="#fff" stroke="#000" stroke-width="1.9"/><path d="M109.2 612.5H119.8M114.5 607.2V617.8" stroke="#000" stroke-width="1.8" fill="none"/>
<rect x="154.14" y="583.45" width="10.6" height="10.6" fill="#fff" stroke="#000" stroke-width="1.9"/><path d="M154.14 588.75H164.74M159.44 583.45V594.05" stroke="#000" stroke-width="1.8" fill="none"/>
<rect x="199.08999999999997" y="580.95" width="10.6" height="10.6" fill="#fff" stroke="#000" stroke-width="1.9"/><path d="M199.08999999999997 586.25H209.69M204.39 580.95V591.55" stroke="#000" stroke-width="1.8" fill="none"/>
<polyline points="68.85,658.75 114.5,657 159.44,657 204.39,657" fill="none" stroke="#000" stroke-width="1.75"/>
<path d="M63.05 658.75L68.85 653.35L74.64999999999999 658.75L68.85 664.15Z" fill="#000" stroke="#000" stroke-width="1.7"/>
<path d="M108.7 657L114.5 651.6L120.3 657L114.5 662.4Z" fill="#000" stroke="#000" stroke-width="1.7"/>
<path d="M153.64 657L159.44 651.6L165.24 657L159.44 662.4Z" fill="#000" stroke="#000" stroke-width="1.7"/>
<path d="M198.58999999999997 657L204.39 651.6L210.19 657L204.39 662.4Z" fill="#000" stroke="#000" stroke-width="1.7"/>
<polyline points="68.85,655.5 114.5,657.8 159.44,657 204.39,657" fill="none" stroke="#000" stroke-width="1.75"/>
<rect x="63.699999999999996" y="650.35" width="10.3" height="10.3" fill="#fff" stroke="#000" stroke-width="1.7"/>
<rect x="109.35" y="652.65" width="10.3" height="10.3" fill="#fff" stroke="#000" stroke-width="1.7"/>
<rect x="154.29" y="651.85" width="10.3" height="10.3" fill="#fff" stroke="#000" stroke-width="1.7"/>
<rect x="199.23999999999998" y="651.85" width="10.3" height="10.3" fill="#fff" stroke="#000" stroke-width="1.7"/>
<polyline points="68.85,655 114.5,655 159.44,655 204.39,655" fill="none" stroke="#000" stroke-width="1.75"/>
<circle cx="68.85" cy="655" r="5.05" fill="#fff" stroke="#000" stroke-width="1.7"/>
<circle cx="114.5" cy="655" r="5.05" fill="#fff" stroke="#000" stroke-width="1.7"/>
<circle cx="159.44" cy="655" r="5.05" fill="#fff" stroke="#000" stroke-width="1.7"/>
<circle cx="204.39" cy="655" r="5.05" fill="#fff" stroke="#000" stroke-width="1.7"/>
<polyline points="68.85,654.25 114.5,653.75 159.44,653.75 204.39,653.75" fill="none" stroke="#000" stroke-width="1.75"/>
<circle cx="68.85" cy="654.25" r="5.25" fill="#fff" stroke="#000" stroke-width="1.8"/><path d="M63.599999999999994 654.25H74.1M68.85 649.0V659.5" stroke="#000" stroke-width="1.6" fill="none"/>
<circle cx="114.5" cy="653.75" r="5.25" fill="#fff" stroke="#000" stroke-width="1.8"/><path d="M109.25 653.75H119.75M114.5 648.5V659.0" stroke="#000" stroke-width="1.6" fill="none"/>
<circle cx="159.44" cy="653.75" r="5.25" fill="#fff" stroke="#000" stroke-width="1.8"/><path d="M154.19 653.75H164.69M159.44 648.5V659.0" stroke="#000" stroke-width="1.6" fill="none"/>
<circle cx="204.39" cy="653.75" r="5.25" fill="#fff" stroke="#000" stroke-width="1.8"/><path d="M199.14 653.75H209.64M204.39 648.5V659.0" stroke="#000" stroke-width="1.6" fill="none"/>
<text x="216.52" y="586.9" font-size="10.8" font-family="Liberation Sans, sans-serif" font-weight="bold" textLength="51.57" lengthAdjust="spacingAndGlyphs">B6.2/H28</text>
<text x="230.09" y="599.2" font-size="10.8" font-family="Liberation Sans, sans-serif" font-weight="bold" textLength="24.43" lengthAdjust="spacingAndGlyphs">CTL</text>
<path d="M309.4 572.5V660.8H502.99999999999994" fill="none" stroke="#000" stroke-width="1.8"/>
<path d="M304.4 656.7H309.4" stroke="#000" stroke-width="1.8"/>
<text x="302.2" y="660.6" font-size="10" font-family="Liberation Sans, sans-serif" font-weight="bold" text-anchor="end">0</text>
<path d="M304.4 637.95H309.4" stroke="#000" stroke-width="1.8"/>
<text x="302.2" y="641.85" font-size="10" font-family="Liberation Sans, sans-serif" font-weight="bold" text-anchor="end">20</text>
<path d="M304.4 619.2H309.4" stroke="#000" stroke-width="1.8"/>
<text x="302.2" y="623.1" font-size="10" font-family="Liberation Sans, sans-serif" font-weight="bold" text-anchor="end">40</text>
<path d="M304.4 600.45H309.4" stroke="#000" stroke-width="1.8"/>
<text x="302.2" y="604.35" font-size="10" font-family="Liberation Sans, sans-serif" font-weight="bold" text-anchor="end">60</text>
<path d="M304.4 581.7H309.4" stroke="#000" stroke-width="1.8"/>
<text x="302.2" y="585.6" font-size="10" font-family="Liberation Sans, sans-serif" font-weight="bold" text-anchor="end">80</text>
<path d="M309.4 660.8V665.1999999999999" stroke="#000" stroke-width="1.8"/>
<text x="309.4" y="675.7" font-size="10" font-family="Liberation Sans, sans-serif" font-weight="bold" text-anchor="middle">0.1</text>
<path d="M373.7 660.8V665.1999999999999" stroke="#000" stroke-width="1.8"/>
<text x="373.7" y="675.7" font-size="10" font-family="Liberation Sans, sans-serif" font-weight="bold" text-anchor="middle">1</text>
<path d="M438.0 660.8V665.1999999999999" stroke="#000" stroke-width="1.8"/>
<text x="438.0" y="675.7" font-size="10" font-family="Liberation Sans, sans-serif" font-weight="bold" text-anchor="middle">10</text>
<path d="M502.29999999999995 660.8V665.1999999999999" stroke="#000" stroke-width="1.8"/>
<text x="502.29999999999995" y="675.7" font-size="10" font-family="Liberation Sans, sans-serif" font-weight="bold" text-anchor="middle">100</text>
<text x="289.5" y="562.5" font-size="14" font-family="Liberation Sans, sans-serif" font-weight="bold">T2Kb + H4</text>
<polyline points="328.9,608.4 373.8,580.9 420.3,569.4 463.9,590.7" fill="none" stroke="#000" stroke-width="1.75"/>
<path d="M322.9 608.4L328.9 602.3L334.9 608.4L328.9 614.5Z" fill="#fff" stroke="#000" stroke-width="1.7"/><path d="M328.9 602.3L334.9 608.4L328.9 614.5Z" fill="#000"/>
<path d="M367.8 580.9L373.8 574.8L379.8 580.9L373.8 587.0Z" fill="#fff" stroke="#000" stroke-width="1.7"/><path d="M373.8 574.8L379.8 580.9L373.8 587.0Z" fill="#000"/>
<path d="M414.3 569.4L420.3 563.3L426.3 569.4L420.3 575.5Z" fill="#fff" stroke="#000" stroke-width="1.7"/><path d="M420.3 563.3L426.3 569.4L420.3 575.5Z" fill="#000"/>
<path d="M457.9 590.7L463.9 584.6L469.9 590.7L463.9 596.8000000000001Z" fill="#fff" stroke="#000" stroke-width="1.7"/><path d="M463.9 584.6L469.9 590.7L463.9 596.8000000000001Z" fill="#000"/>
<polyline points="328.9,653.8 373.8,652.5 420.3,657 463.9,648.75" fill="none" stroke="#000" stroke-width="1.75"/>
<circle cx="328.9" cy="653.8" r="5.05" fill="#fff" stroke="#000" stroke-width="1.7"/>
<circle cx="373.8" cy="652.5" r="5.05" fill="#fff" stroke="#000" stroke-width="1.7"/>
<circle cx="420.3" cy="657" r="5.05" fill="#fff" stroke="#000" stroke-width="1.7"/>
<circle cx="463.9" cy="648.75" r="5.05" fill="#fff" stroke="#000" stroke-width="1.7"/>
<polyline points="328.9,657.2 373.8,655.5 420.3,655 463.9,657" fill="none" stroke="#000" stroke-width="1.75"/>
<path d="M323.09999999999997 657.2L328.9 651.8000000000001L334.7 657.2L328.9 662.6Z" fill="#fff" stroke="#000" stroke-width="1.7" stroke-linejoin="miter"/>
<path d="M368.0 655.5L373.8 650.1L379.6 655.5L373.8 660.9Z" fill="#fff" stroke="#000" stroke-width="1.7" stroke-linejoin="miter"/>
<path d="M414.5 655L420.3 649.6L426.1 655L420.3 660.4Z" fill="#fff" stroke="#000" stroke-width="1.7" stroke-linejoin="miter"/>
<path d="M458.09999999999997 657L463.9 651.6L469.7 657L463.9 662.4Z" fill="#fff" stroke="#000" stroke-width="1.7" stroke-linejoin="miter"/>
<polyline points="328.9,655.3 373.8,654.5 420.3,653.75 463.9,657" fill="none" stroke="#000" stroke-width="1.75"/>
<rect x="323.75" y="650.15" width="10.3" height="10.3" fill="#fff" stroke="#000" stroke-width="1.7"/>
<rect x="368.65000000000003" y="649.35" width="10.3" height="10.3" fill="#fff" stroke="#000" stroke-width="1.7"/>
<rect x="415.15000000000003" y="648.6" width="10.3" height="10.3" fill="#fff" stroke="#000" stroke-width="1.7"/>
<rect x="458.75" y="651.85" width="10.3" height="10.3" fill="#fff" stroke="#000" stroke-width="1.7"/>
<text x="475.99" y="590.1" font-size="11.4" font-family="Liberation Sans, sans-serif" font-weight="bold" textLength="17.02" lengthAdjust="spacingAndGlyphs">M9</text>
<text x="472.59" y="602.8" font-size="11.4" font-family="Liberation Sans, sans-serif" font-weight="bold" textLength="23.82" lengthAdjust="spacingAndGlyphs">CTL</text>
<path d="M50.2 712.5V801.1H243.79999999999995" fill="none" stroke="#000" stroke-width="1.8"/>
<path d="M45.2 797.1H50.2" stroke="#000" stroke-width="1.8"/>
<text x="43.0" y="801.0" font-size="10" font-family="Liberation Sans, sans-serif" font-weight="bold" text-anchor="end">0</text>
<path d="M45.2 778.35H50.2" stroke="#000" stroke-width="1.8"/>
<text x="43.0" y="782.25" font-size="10" font-family="Liberation Sans, sans-serif" font-weight="bold" text-anchor="end">20</text>
<path d="M45.2 759.6H50.2" stroke="#000" stroke-width="1.8"/>
<text x="43.0" y="763.5" font-size="10" font-family="Liberation Sans, sans-serif" font-weight="bold" text-anchor="end">40</text>
<path d="M45.2 740.85H50.2" stroke="#000" stroke-width="1.8"/>
<text x="43.0" y="744.75" font-size="10" font-family="Liberation Sans, sans-serif" font-weight="bold" text-anchor="end">60</text>
<path d="M45.2 722.1H50.2" stroke="#000" stroke-width="1.8"/>
<text x="43.0" y="726.0" font-size="10" font-family="Liberation Sans, sans-serif" font-weight="bold" text-anchor="end">80</text>
<path d="M50.2 801.1V805.5" stroke="#000" stroke-width="1.8"/>
<text x="50.2" y="816.0" font-size="10" font-family="Liberation Sans, sans-serif" font-weight="bold" text-anchor="middle">0.1</text>
<path d="M114.5 801.1V805.5" stroke="#000" stroke-width="1.8"/>
<text x="114.5" y="816.0" font-size="10" font-family="Liberation Sans, sans-serif" font-weight="bold" text-anchor="middle">1</text>
<path d="M178.8 801.1V805.5" stroke="#000" stroke-width="1.8"/>
<text x="178.8" y="816.0" font-size="10" font-family="Liberation Sans, sans-serif" font-weight="bold" text-anchor="middle">10</text>
<path d="M243.09999999999997 801.1V805.5" stroke="#000" stroke-width="1.8"/>
<text x="243.09999999999997" y="816.0" font-size="10" font-family="Liberation Sans, sans-serif" font-weight="bold" text-anchor="middle">100</text>
<text x="30.7" y="703" font-size="14" font-family="Liberation Sans, sans-serif" font-weight="bold">T2Db + H13</text>
<polyline points="68.85,780.4 114.5,756.4 159.44,722.7 204.39,722.4" fill="none" stroke="#000" stroke-width="1.75"/>
<circle cx="68.85" cy="780.4" r="5.25" fill="#fff" stroke="#000" stroke-width="1.8"/><path d="M63.599999999999994 780.4H74.1M68.85 775.15V785.65" stroke="#000" stroke-width="1.6" fill="none"/>
<circle cx="114.5" cy="756.4" r="5.25" fill="#fff" stroke="#000" stroke-width="1.8"/><path d="M109.25 756.4H119.75M114.5 751.15V761.65" stroke="#000" stroke-width="1.6" fill="none"/>
<circle cx="159.44" cy="722.7" r="5.25" fill="#fff" stroke="#000" stroke-width="1.8"/><path d="M154.19 722.7H164.69M159.44 717.45V727.95" stroke="#000" stroke-width="1.6" fill="none"/>
<circle cx="204.39" cy="722.4" r="5.25" fill="#fff" stroke="#000" stroke-width="1.8"/><path d="M199.14 722.4H209.64M204.39 717.15V727.65" stroke="#000" stroke-width="1.6" fill="none"/>
<polyline points="68.85,794.0 114.5,794.0 159.44,790.9 204.39,788.8" fill="none" stroke="#000" stroke-width="1.75"/>
<path d="M62.199999999999996 791.0L68.85 800.0L75.5 791.0Z" fill="#fff" stroke="#000" stroke-width="1.7" stroke-linejoin="miter"/>
<path d="M107.85 791.0L114.5 800.0L121.15 791.0Z" fill="#fff" stroke="#000" stroke-width="1.7" stroke-linejoin="miter"/>
<path d="M152.79 787.9L159.44 796.9L166.09 787.9Z" fill="#fff" stroke="#000" stroke-width="1.7" stroke-linejoin="miter"/>
<path d="M197.73999999999998 785.8L204.39 794.8L211.04 785.8Z" fill="#fff" stroke="#000" stroke-width="1.7" stroke-linejoin="miter"/>
<polyline points="68.85,797 114.5,798 159.44,795 204.39,799.3" fill="none" stroke="#000" stroke-width="1.75"/>
<path d="M63.05 797L68.85 791.6L74.64999999999999 797L68.85 802.4Z" fill="#fff" stroke="#000" stroke-width="1.7" stroke-linejoin="miter"/>
<path d="M108.7 798L114.5 792.6L120.3 798L114.5 803.4Z" fill="#fff" stroke="#000" stroke-width="1.7" stroke-linejoin="miter"/>
<path d="M153.64 795L159.44 789.6L165.24 795L159.44 800.4Z" fill="#fff" stroke="#000" stroke-width="1.7" stroke-linejoin="miter"/>
<path d="M198.58999999999997 799.3L204.39 793.9L210.19 799.3L204.39 804.6999999999999Z" fill="#fff" stroke="#000" stroke-width="1.7" stroke-linejoin="miter"/>
<polyline points="68.85,797.6 114.5,798 159.44,793.3 204.39,793" fill="none" stroke="#000" stroke-width="1.75"/>
<rect x="63.699999999999996" y="792.45" width="10.3" height="10.3" fill="#fff" stroke="#000" stroke-width="1.7"/>
<rect x="109.35" y="792.85" width="10.3" height="10.3" fill="#fff" stroke="#000" stroke-width="1.7"/>
<rect x="154.29" y="788.15" width="10.3" height="10.3" fill="#fff" stroke="#000" stroke-width="1.7"/>
<rect x="199.23999999999998" y="787.85" width="10.3" height="10.3" fill="#fff" stroke="#000" stroke-width="1.7"/>
<polyline points="68.85,796.8 114.5,797.7 159.44,793.9 204.39,792.5" fill="none" stroke="#000" stroke-width="1.75"/>
<circle cx="68.85" cy="796.8" r="5.05" fill="#fff" stroke="#000" stroke-width="1.7"/>
<circle cx="114.5" cy="797.7" r="5.05" fill="#fff" stroke="#000" stroke-width="1.7"/>
<circle cx="159.44" cy="793.9" r="5.05" fill="#fff" stroke="#000" stroke-width="1.7"/>
<circle cx="204.39" cy="792.5" r="5.05" fill="#fff" stroke="#000" stroke-width="1.7"/>
<text x="216.04" y="723.6" font-size="12" font-family="Liberation Sans, sans-serif" font-weight="bold" textLength="43.31" lengthAdjust="spacingAndGlyphs">SP/H13</text>
<text x="225.48" y="735.9" font-size="12" font-family="Liberation Sans, sans-serif" font-weight="bold" textLength="24.43" lengthAdjust="spacingAndGlyphs">CTL</text>
<path d="M309.0 713V801.1H502.90000000000003" fill="none" stroke="#000" stroke-width="1.8"/>
<path d="M304.0 797.3H309.0" stroke="#000" stroke-width="1.8"/>
<text x="301.8" y="801.2" font-size="10" font-family="Liberation Sans, sans-serif" font-weight="bold" text-anchor="end">0</text>
<path d="M304.0 778.5H309.0" stroke="#000" stroke-width="1.8"/>
<text x="301.8" y="782.4" font-size="10" font-family="Liberation Sans, sans-serif" font-weight="bold" text-anchor="end">20</text>
<path d="M304.0 759.6999999999999H309.0" stroke="#000" stroke-width="1.8"/>
<text x="301.8" y="763.6" font-size="10" font-family="Liberation Sans, sans-serif" font-weight="bold" text-anchor="end">40</text>
<path d="M304.0 740.9H309.0" stroke="#000" stroke-width="1.8"/>
<text x="301.8" y="744.8" font-size="10" font-family="Liberation Sans, sans-serif" font-weight="bold" text-anchor="end">60</text>
<path d="M304.0 722.0999999999999H309.0" stroke="#000" stroke-width="1.8"/>
<text x="301.8" y="726.0" font-size="10" font-family="Liberation Sans, sans-serif" font-weight="bold" text-anchor="end">80</text>
<path d="M309.0 801.1V805.5" stroke="#000" stroke-width="1.8"/>
<text x="309.0" y="816.0" font-size="10" font-family="Liberation Sans, sans-serif" font-weight="bold" text-anchor="middle">0.1</text>
<path d="M373.4 801.1V805.5" stroke="#000" stroke-width="1.8"/>
<text x="373.4" y="816.0" font-size="10" font-family="Liberation Sans, sans-serif" font-weight="bold" text-anchor="middle">1</text>
<path d="M437.8 801.1V805.5" stroke="#000" stroke-width="1.8"/>
<text x="437.8" y="816.0" font-size="10" font-family="Liberation Sans, sans-serif" font-weight="bold" text-anchor="middle">10</text>
<path d="M502.20000000000005 801.1V805.5" stroke="#000" stroke-width="1.8"/>
<text x="502.20000000000005" y="816.0" font-size="10" font-family="Liberation Sans, sans-serif" font-weight="bold" text-anchor="middle">100</text>
<text x="290" y="703.25" font-size="14" font-family="Liberation Sans, sans-serif" font-weight="bold">T2Db + HY</text>
<polyline points="328.4,779.5 373.9,756.25 419.3,728.25 464.2,722.5" fill="none" stroke="#000" stroke-width="1.75"/>
<rect x="323.09999999999997" y="774.2" width="10.6" height="10.6" fill="#fff" stroke="#000" stroke-width="1.9"/><path d="M323.09999999999997 774.2L333.7 784.8M333.7 774.2L323.09999999999997 784.8" stroke="#000" stroke-width="1.5" fill="none"/>
<rect x="368.59999999999997" y="750.95" width="10.6" height="10.6" fill="#fff" stroke="#000" stroke-width="1.9"/><path d="M368.59999999999997 750.95L379.2 761.55M379.2 750.95L368.59999999999997 761.55" stroke="#000" stroke-width="1.5" fill="none"/>
<rect x="414.0" y="722.95" width="10.6" height="10.6" fill="#fff" stroke="#000" stroke-width="1.9"/><path d="M414.0 722.95L424.6 733.55M424.6 722.95L414.0 733.55" stroke="#000" stroke-width="1.5" fill="none"/>
<rect x="458.9" y="717.2" width="10.6" height="10.6" fill="#fff" stroke="#000" stroke-width="1.9"/><path d="M458.9 717.2L469.5 727.8M469.5 717.2L458.9 727.8" stroke="#000" stroke-width="1.5" fill="none"/>
<polyline points="328.4,797.2 373.9,799.2 419.3,796.4 464.2,795.0" fill="none" stroke="#000" stroke-width="1.75"/>
<circle cx="328.4" cy="797.2" r="5.05" fill="#fff" stroke="#000" stroke-width="1.7"/>
<circle cx="373.9" cy="799.2" r="5.05" fill="#fff" stroke="#000" stroke-width="1.7"/>
<circle cx="419.3" cy="796.4" r="5.05" fill="#fff" stroke="#000" stroke-width="1.7"/>
<circle cx="464.2" cy="795.0" r="5.05" fill="#fff" stroke="#000" stroke-width="1.7"/>
<polyline points="328.4,796.2 373.9,798.3 419.3,795.2 464.2,793.8" fill="none" stroke="#000" stroke-width="1.75"/>
<rect x="323.25" y="791.0500000000001" width="10.3" height="10.3" fill="#000" stroke="#000" stroke-width="1.7"/>
<rect x="368.75" y="793.15" width="10.3" height="10.3" fill="#000" stroke="#000" stroke-width="1.7"/>
<rect x="414.15000000000003" y="790.0500000000001" width="10.3" height="10.3" fill="#000" stroke="#000" stroke-width="1.7"/>
<rect x="459.05" y="788.65" width="10.3" height="10.3" fill="#000" stroke="#000" stroke-width="1.7"/>
<polyline points="328.4,796.1 373.9,798.4 419.3,795.8 464.2,794.8" fill="none" stroke="#000" stroke-width="1.75"/>
<path d="M322.59999999999997 796.1L328.4 790.7L334.2 796.1L328.4 801.5Z" fill="#fff" stroke="#000" stroke-width="1.7" stroke-linejoin="miter"/>
<path d="M368.09999999999997 798.4L373.9 793.0L379.7 798.4L373.9 803.8Z" fill="#fff" stroke="#000" stroke-width="1.7" stroke-linejoin="miter"/>
<path d="M413.5 795.8L419.3 790.4L425.1 795.8L419.3 801.1999999999999Z" fill="#fff" stroke="#000" stroke-width="1.7" stroke-linejoin="miter"/>
<path d="M458.4 794.8L464.2 789.4L470.0 794.8L464.2 800.1999999999999Z" fill="#fff" stroke="#000" stroke-width="1.7" stroke-linejoin="miter"/>
<text x="475.2" y="722.1" font-size="12" font-family="Liberation Sans, sans-serif" font-weight="bold" textLength="42.59" lengthAdjust="spacingAndGlyphs">CTL-10</text>
<text x="484.29" y="734.5" font-size="12" font-family="Liberation Sans, sans-serif" font-weight="bold" textLength="24.43" lengthAdjust="spacingAndGlyphs">CTL</text>
<text x="256.7" y="834.0" font-size="14" font-family="Liberation Sans, sans-serif" font-weight="bold" textLength="64" lengthAdjust="spacing">E/T Ratio</text>
<text transform="translate(17.9,684) rotate(-90)" font-size="14" font-family="Liberation Sans, sans-serif" font-weight="bold" textLength="111.5" lengthAdjust="spacing">% Specific Lysis</text>
<circle cx="401.5" cy="453.5" r="5.05" fill="#fff" stroke="#000" stroke-width="1.7"/>
<rect x="396.85" y="469.25" width="10.3" height="10.3" fill="#fff" stroke="#000" stroke-width="1.7"/>
<path d="M395.45 495.75L401.75 489.85L408.05 495.75L401.75 501.65Z" fill="#fff" stroke="#000" stroke-width="1.7" stroke-linejoin="miter"/>
<path d="M327.35 522.7L334 513.7L340.65 522.7Z" fill="#fff" stroke="#000" stroke-width="1.7" stroke-linejoin="miter"/>
<rect x="346.0" y="513.1" width="10.6" height="10.6" fill="#fff" stroke="#000" stroke-width="1.9"/><path d="M346.0 518.4H356.6M351.3 513.1V523.6999999999999" stroke="#000" stroke-width="1.8" fill="none"/>
<circle cx="367.5" cy="518.5" r="5.25" fill="#fff" stroke="#000" stroke-width="1.8"/><path d="M362.25 518.5H372.75M367.5 513.25V523.75" stroke="#000" stroke-width="1.6" fill="none"/>
<path d="M379.0 518.2L385 512.1L391.0 518.2L385 524.3000000000001Z" fill="#fff" stroke="#000" stroke-width="1.7"/><path d="M385 512.1L391.0 518.2L385 524.3000000000001Z" fill="#000"/>
<rect x="396.7" y="513.1" width="10.6" height="10.6" fill="#fff" stroke="#000" stroke-width="1.9"/><path d="M396.7 513.1L407.3 523.6999999999999M407.3 513.1L396.7 523.6999999999999" stroke="#000" stroke-width="1.5" fill="none"/>
<text x="419.6" y="457.3" font-size="11.8" font-family="Liberation Sans, sans-serif" font-weight="bold">Lung</text>
<text x="419.6" y="478.6" font-size="11.8" font-family="Liberation Sans, sans-serif" font-weight="bold">Spleen</text>
<text x="419.6" y="499.9" font-size="11.8" font-family="Liberation Sans, sans-serif" font-weight="bold">Liver</text>
<text x="419.6" y="521.4" font-size="11.8" font-family="Liberation Sans, sans-serif" font-weight="bold">Positive control</text>
</g>
</svg>
</body></html>
